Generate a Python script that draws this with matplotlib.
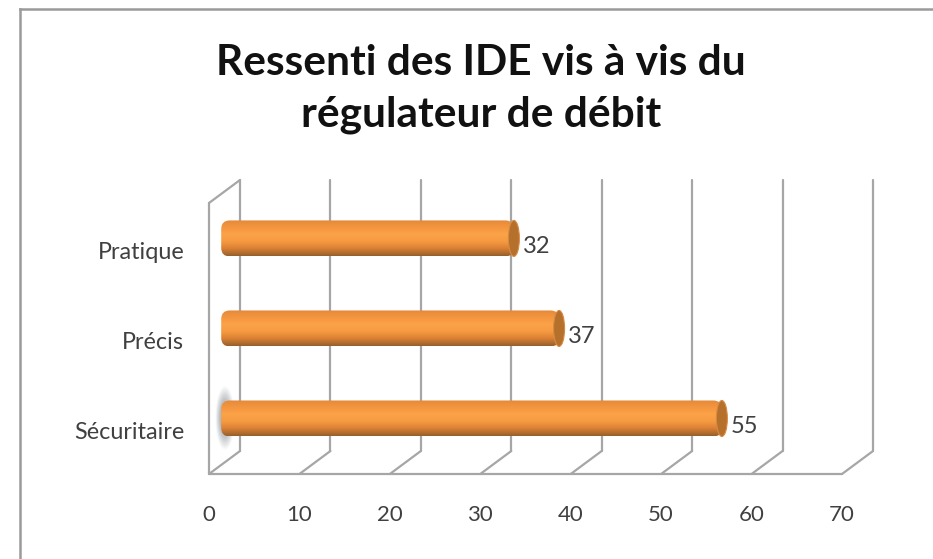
import numpy as np
import matplotlib
matplotlib.use("Agg")
import matplotlib.pyplot as plt
from matplotlib.colors import LinearSegmentedColormap
from matplotlib.lines import Line2D
from matplotlib.patches import Ellipse, FancyBboxPatch

categories = ["Sécuritaire", "Précis", "Pratique"]
values = [55, 37, 32]
x_ticks = [0, 10, 20, 30, 40, 50, 60, 70]
title = "Ressenti des IDE vis à vis du\nrégulateur de débit"

W, H = 933, 559
fig = plt.figure(figsize=(W / 100, H / 100), dpi=100, facecolor="white")
plt.rcParams["font.family"] = ["Lato", "DejaVu Sans"]

# Front plane of the 3D box, in pixels
left, right, bottom, top = 209, 842, 474, 203
ax = fig.add_axes([left / W, 1 - bottom / H, (right - left) / W, (bottom - top) / H])
ax.set_axis_off()
XMAX = 70
YMIN, YMAX = -0.5, 2.51

px_x = XMAX / (right - left)
px_y = (YMAX - YMIN) / (bottom - top)
depth_x, depth_y = 31 * px_x, 23 * px_y
grid = dict(color="#a6a6a6", lw=1.6, solid_capstyle="round", clip_on=False, zorder=1)

# Walls and gridlines
for t in x_ticks:
    ax.plot([t + depth_x, t + depth_x], [YMIN + depth_y, YMAX + depth_y], **grid)
    ax.plot([t, t + depth_x], [YMIN, YMIN + depth_y], **grid)
ax.plot([0, XMAX], [YMIN, YMIN], **grid)
ax.plot([0, 0], [YMIN, YMAX], **grid)
ax.plot([0, depth_x], [YMAX, YMAX + depth_y], **grid)

cmap = LinearSegmentedColormap.from_list(
    "cyl", ["#e58a3a", "#f4963f", "#fba349", "#f69a42", "#d97f33", "#96602c"])
gradient = np.linspace(0, 1, 64).reshape(-1, 1)
half_h = 18 * px_y
cap_w = 11 * px_x
start = 1.35

for i, v in enumerate(values):
    xe = v + depth_x / 2
    yc = i + depth_y / 2 - 1 * px_y
    # Soft shadow at the foot of the longest bar
    if v == max(values):
        yy, xx = np.mgrid[-1:1:80j, -1:1:40j]
        alpha = np.clip(1 - (xx ** 2 + yy ** 2), 0, 1) ** 1.2 * 0.75
        rgba = np.zeros((80, 40, 4))
        rgba[..., :3] = np.array([0x7c, 0x82, 0x88]) / 255
        rgba[..., 3] = alpha
        ax.imshow(rgba, aspect="auto", zorder=2, interpolation="bilinear", clip_on=False,
                  extent=(start - 6 * px_x, start + 14 * px_x, yc - 33 * px_y, yc + 33 * px_y))
    clip = FancyBboxPatch((start, yc - half_h), xe - start, 2 * half_h,
                          boxstyle="round,pad=0,rounding_size=0.95",
                          mutation_aspect=px_y / px_x,
                          transform=ax.transData, fc="none", ec="none")
    ax.add_patch(clip)
    im = ax.imshow(gradient, cmap=cmap, aspect="auto", origin="upper", zorder=3,
                   extent=(start, xe + 1, yc - half_h, yc + half_h), interpolation="bilinear")
    # the square right end of the clip is hidden by the cap
    im.set_clip_path(clip)
    ax.add_patch(Ellipse((xe, yc), cap_w, 2 * half_h, fc="#b5702c", ec="#d98a42",
                         lw=0.8, zorder=4, clip_on=False))
    ax.text(xe + 0.95, yc - 8 * px_y, str(v), ha="left", va="center", fontsize=17,
            color="#404040", zorder=5)
    ax.text(-2.75, i - 4 * px_y, categories[i], ha="right", va="center", fontsize=16.8,
            color="#404040")

for t in x_ticks:
    ax.text(t, YMIN - 41 * px_y, str(t), ha="center", va="center", fontsize=16, color="#404040")

ax.set_xlim(0, XMAX)
ax.set_ylim(YMIN, YMAX)

fig.text(481 / W, 1 - 89 / H, title, ha="center", va="center", fontsize=30.5, fontweight="bold",
         color="#111111", linespacing=1.42)

# Chart frame: only the top and left edges are inside the picture
frame = dict(color="#9a9a9a", lw=1.8, transform=fig.transFigure)
fig.add_artist(Line2D([20 / W, 1], [1 - 9 / H, 1 - 9 / H], **frame))
fig.add_artist(Line2D([20 / W, 20 / W], [0, 1 - 9 / H], **frame))

fig.savefig("out.png", dpi=100, facecolor="white")
